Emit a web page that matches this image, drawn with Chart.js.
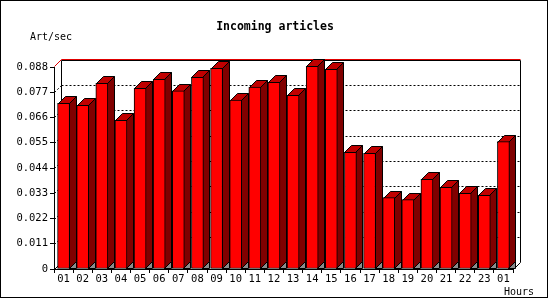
<!DOCTYPE html>
<html>
<head>
<meta charset="utf-8">
<script src="https://cdn.jsdelivr.net/npm/chart.js@4.4.1/dist/chart.umd.min.js"></script>
<style>
  html, body { margin: 0; padding: 0; background: #fff; }
  #chart { display: block; }
</style>
</head>
<body>
<canvas id="chart" width="550" height="300"></canvas>
<script>
const HOURS = ["01", "02", "03", "04", "05", "06", "07", "08", "09", "10", "11", "12",
  "13", "14", "15", "16", "17", "18", "19", "20", "21", "22", "23", "01"];
const ARTICLES_PER_SEC = [0.0722, 0.0713, 0.0809, 0.0648, 0.0787, 0.0826, 0.0776, 0.0835,
  0.0874, 0.0736, 0.0792, 0.0813, 0.0757, 0.0883, 0.0870, 0.0508, 0.0504, 0.0311,
  0.0302, 0.0391, 0.0356, 0.0330, 0.0321, 0.0555];
const Y_TICKS = [0, 0.011, 0.022, 0.033, 0.044, 0.055, 0.066, 0.077, 0.088];

const FONT = "'DejaVu Sans Mono', monospace";
const DEPTH = 7; // how far the "3D" back wall sits up and to the right

const poly = (ctx, pts, fill, stroke) => {
  ctx.beginPath();
  pts.forEach(([x, y], i) => (i ? ctx.lineTo(x, y) : ctx.moveTo(x, y)));
  ctx.closePath();
  if (fill) { ctx.fillStyle = fill; ctx.fill(); }
  if (stroke) { ctx.strokeStyle = stroke; ctx.stroke(); }
};

const line = (ctx, x0, y0, x1, y1, color) => {
  ctx.beginPath();
  ctx.moveTo(x0, y0);
  ctx.lineTo(x1, y1);
  ctx.strokeStyle = color;
  ctx.stroke();
};

// Old-style pseudo 3D: back wall, left wall, floor, and the top/side faces of
// each bar. Chart.js draws the red front faces afterwards, on top of this.
const box3dPlugin = {
  id: "box3d",
  beforeDatasetsDraw(chart) {
    const {ctx, chartArea, scales} = chart;
    const d = DEPTH;
    const L = Math.round(chartArea.left) + 0.5;
    const R = Math.round(chartArea.right) + 0.5;
    const T = Math.round(chartArea.top) + 0.5;
    const B = Math.round(chartArea.bottom) + 0.5;
    ctx.save();
    ctx.lineWidth = 1;

    // dotted grid on the back wall, plus its diagonal run over the left wall
    ctx.setLineDash([2, 2]);
    for (const v of Y_TICKS.slice(1, -1)) {
      const yy = Math.round(scales.y.getPixelForValue(v)) + 0.5;
      line(ctx, L + d, yy - d, R + d, yy - d, "#000");
      line(ctx, L, yy, L + d, yy - d, "#000");
    }
    ctx.setLineDash([]);

    // wall and floor edges
    line(ctx, L + d, T - d, L + d, B - d, "#000");
    line(ctx, R + d, T - d, R + d, B - d, "#000");
    line(ctx, L, B, L + d, B - d, "#000");
    line(ctx, R, B, R + d, B - d, "#000");
    line(ctx, L + d, T - d, R + d, T - d, "#000");
    line(ctx, L + d, T - d - 1, R + d, T - d - 1, "#e00000");
    line(ctx, L, T - 1, L + d, T - d - 1, "#e00000");

    // top and side faces of the bars
    chart.getDatasetMeta(0).data.forEach((bar) => {
      const {x, y, base, width} = bar.getProps(["x", "y", "base", "width"], true);
      const x0 = Math.round(x - width / 2) + 0.5;
      const x1 = Math.round(x + width / 2) - 0.5;
      const yt = Math.round(y) + 0.5;
      const yb = Math.round(base) - 0.5;
      poly(ctx, [[x1, yb], [x1 + d, yb - d], [x1 + d, yb]], "#8c8c8c", "#000");
      poly(ctx, [[x1, yt], [x1 + d, yt - d], [x1 + d, yb - d], [x1, yb]], "#800000", "#000");
      poly(ctx, [[x0, yt], [x0 + d, yt - d], [x1 + d, yt - d], [x1, yt]], "#c00000", "#000");
    });
    ctx.restore();
  },
  afterDraw(chart) {
    const {ctx} = chart;
    ctx.save();
    ctx.fillStyle = "#000";
    ctx.textBaseline = "middle";
    ctx.font = `bold 11.5px ${FONT}`;
    ctx.textAlign = "center";
    ctx.fillText("Incoming articles", 275, 27);
    ctx.font = `10px ${FONT}`;
    ctx.textAlign = "left";
    ctx.fillText("Art/sec", 30, 37);
    ctx.fillText("Hours", 504, 292);
    // image frame
    ctx.strokeStyle = "#000";
    ctx.lineWidth = 1;
    ctx.strokeRect(0.5, 0.5, 547, 297);
    ctx.restore();
  },
};

new Chart(document.getElementById("chart"), {
  type: "bar",
  data: {
    labels: HOURS,
    datasets: [{
      label: "Art/sec",
      data: ARTICLES_PER_SEC,
      backgroundColor: "#ff0000",
      borderColor: "#000",
      borderWidth: 1,
      borderSkipped: false,
      barThickness: 12,
      clip: false,
    }],
  },
  options: {
    responsive: false,
    animation: false,
    devicePixelRatio: 1,
    layout: {padding: {left: 0, right: 37, top: 67, bottom: 0}},
    scales: {
      x: {
        offset: true,
        grid: {display: true, offset: true, drawOnChartArea: false, tickLength: 4, color: "#000"},
        border: {display: true, color: "#000"},
        ticks: {color: "#000", font: {family: FONT, size: 10.5}, padding: 0, autoSkip: false, maxRotation: 0},
        afterFit: (scale) => { scale.height = 31; },
      },
      y: {
        min: 0,
        max: 0.088,
        afterBuildTicks: (scale) => { scale.ticks = Y_TICKS.map((value) => ({value})); },
        grid: {display: true, drawOnChartArea: false, tickLength: 4, color: "#000"},
        border: {display: true, color: "#000"},
        ticks: {
          color: "#000",
          font: {family: FONT, size: 10.5},
          padding: 2,
          callback: (v) => (v === 0 ? "0" : v.toFixed(3)),
        },
        afterFit: (scale) => { scale.width = 54; },
      },
    },
    plugins: {
      legend: {display: false},
      tooltip: {enabled: false},
      title: {display: false},
    },
  },
  plugins: [box3dPlugin],
});
</script>
</body>
</html>
